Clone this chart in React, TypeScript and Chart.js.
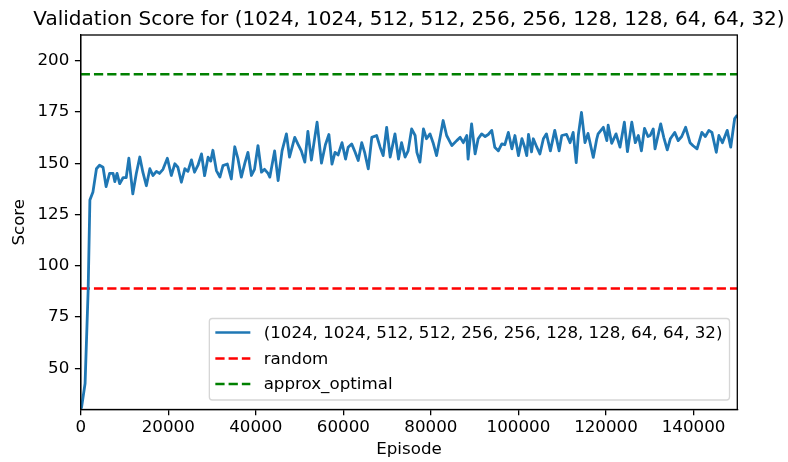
import React, { useEffect, useRef } from "react";
import { Chart, registerables } from "chart.js";

Chart.register(...registerables);

const TITLE = "Validation Score for (1024, 1024, 512, 512, 256, 256, 128, 128, 64, 64, 32)";
const SERIES_LABEL = "(1024, 1024, 512, 512, 256, 256, 128, 128, 64, 64, 32)";
const X_LABEL = "Episode";
const Y_LABEL = "Score";

const episodes = [
  0, 200, 1000, 1700, 2100, 2800, 3600, 4300, 5100, 5800,
  6600, 7400, 7800, 8300, 8900, 9700, 10400, 11000, 11600, 11900,
  12700, 13500, 14200, 15000, 15800, 16500, 17300, 18000, 18800, 19800,
  20700, 21500, 22200, 23000, 23800, 24500, 25300, 26000, 26800, 27600,
  28300, 29100, 29700, 30200, 31000, 31800, 32500, 33500, 34400, 35200,
  35900, 36700, 37500, 38200, 39000, 39700, 40500, 41300, 42000, 42800,
  43200, 44300, 45100, 46000, 47000, 47700, 48900, 49600, 50400, 51200,
  51900, 52700, 54000, 55000, 55900, 56700, 57400, 58100, 58800, 59700,
  60500, 61100, 61900, 62700, 63400, 64200, 64900, 65700, 66500, 67600,
  68400, 69100, 69900, 70700, 71800, 72600, 73300, 74100, 74800, 75600,
  76400, 76800, 77500, 78300, 79000, 79800, 80500, 81300, 82100, 82800,
  83600, 84800, 85900, 86700, 87400, 88200, 88500, 89300, 90100, 90800,
  91600, 92400, 93100, 93900, 94600, 95400, 96200, 96900, 97700, 98500,
  99200, 100000, 100800, 101400, 101900, 102300, 103000, 103400, 104200, 104900,
  105700, 106400, 107300, 108300, 109300, 109900, 111000, 111800, 112500, 113200,
  113700, 114400, 115200, 115900, 117100, 117900, 118200, 119400, 120200, 120500,
  121300, 122300, 123200, 124200, 124900, 125900, 126700, 127400, 128100, 128800,
  129600, 130100, 130800, 131200, 132500, 133200, 134000, 134700, 135700, 136500,
  137300, 138200, 139200, 139900, 140800, 141900, 142700, 143500, 144200, 145200,
  145800, 146600, 147700, 148500, 149400, 150000,
];

const scores = [
  30, 31, 42.6, 88, 132, 136, 147.3, 149, 148, 138.6,
  145, 145, 141, 145, 140, 143, 143, 152.4, 141, 135,
  145, 153, 145.6, 139, 147.3, 144, 146, 145, 147, 152.4,
  144, 149.7, 148, 140.7, 147.3, 146, 151.6, 145.6, 149, 154.5,
  143.9, 152.9, 151, 156.3, 146.4, 143.2, 148.8, 149.6, 142.3, 158,
  152.4, 143.2, 150, 155.3, 144, 147, 158.6, 145.6, 147, 145,
  143.2, 156, 141.5, 156, 164.3, 153, 162.6, 159.4, 156, 150.5,
  165.5, 151.5, 170, 150, 159, 164, 149.5, 155.3, 154, 160,
  152, 157.8, 159.4, 155.3, 151.3, 160, 155, 147.2, 162.6, 163.5,
  157.8, 153.7, 167.5, 153, 164.3, 152, 160, 153, 156, 166.7,
  163.5, 155.3, 150.5, 166.7, 161.9, 164.3, 160, 153.7, 162.6, 170.8,
  163.5, 158.6, 161, 162.6, 160, 163.5, 152, 169.2, 154.5, 161.9,
  164.3, 163, 164, 166, 157.8, 156, 159.4, 159, 165, 157,
  163.5, 153.7, 162, 158, 153.7, 164, 155.5, 161.9, 157.8, 154.5,
  161.9, 164.3, 156, 166, 156, 163.5, 164, 160, 165, 150.3,
  164, 174.8, 160, 164.5, 152.8, 161.9, 164.3, 167.5, 161, 168.5,
  159.7, 164.3, 157.8, 170, 155.6, 170, 160, 163.5, 156, 167,
  163, 163.5, 166.7, 157, 169.2, 162.6, 156.5, 161.9, 165, 161,
  163, 167.5, 160, 158.5, 157, 165, 163, 166, 165, 155.3,
  163.5, 160, 166, 157.8, 171.8, 173.5,
];

const RANDOM_SCORE = 88.9;
const OPTIMAL_SCORE = 193.4;

const X_MIN = 0;
const X_MAX = 150000;
const Y_MIN = 29.9;
const Y_MAX = 212.5;
const X_TICKS = [0, 20000, 40000, 60000, 80000, 100000, 120000, 140000];
const Y_TICKS = [50, 75, 100, 125, 150, 175, 200];

const FONT = '"DejaVu Sans", sans-serif';
const TICK_SIZE = 16.7;
const TITLE_SIZE = 20;

const framePlugin = {
  id: "mplFrame",
  afterDraw(chart: any) {
    const { ctx, chartArea } = chart;
    ctx.save();
    ctx.strokeStyle = "#000";
    ctx.lineWidth = 1.3;
    ctx.strokeRect(chartArea.left, chartArea.top, chartArea.right - chartArea.left, chartArea.bottom - chartArea.top);
    ctx.fillStyle = "#000";
    ctx.font = `${TITLE_SIZE}px ${FONT}`;
    ctx.textAlign = "center";
    ctx.textBaseline = "alphabetic";
    ctx.fillText(TITLE, (chartArea.left + chartArea.right) / 2, chartArea.top - 10);
    ctx.restore();
  },
};

const legendPlugin = {
  id: "mplLegend",
  afterDraw(chart: any) {
    const { ctx, chartArea } = chart;
    const ds = chart.data.datasets;
    ctx.save();
    ctx.font = `${TICK_SIZE}px ${FONT}`;
    const maxW = Math.max(...ds.map((d: any) => ctx.measureText(d.label).width));
    const right = chartArea.right - 7.8;
    const bottom = chartArea.bottom - 9.5;
    const left = right - (54.3 + maxW + 7);
    const rowH = 25.5;
    const top = bottom - (rowH * ds.length + 5);
    const r = 3;
    ctx.beginPath();
    ctx.moveTo(left + r, top);
    ctx.lineTo(right - r, top);
    ctx.quadraticCurveTo(right, top, right, top + r);
    ctx.lineTo(right, bottom - r);
    ctx.quadraticCurveTo(right, bottom, right - r, bottom);
    ctx.lineTo(left + r, bottom);
    ctx.quadraticCurveTo(left, bottom, left, bottom - r);
    ctx.lineTo(left, top + r);
    ctx.quadraticCurveTo(left, top, left + r, top);
    ctx.closePath();
    ctx.fillStyle = "rgba(255,255,255,0.8)";
    ctx.fill();
    ctx.strokeStyle = "rgba(204,204,204,0.8)";
    ctx.lineWidth = 1.3;
    ctx.stroke();
    ds.forEach((d: any, i: number) => {
      const cy = top + 14 + i * rowH + (i > 0 ? 0.5 : 0);
      ctx.beginPath();
      ctx.setLineDash(d.borderDash || []);
      ctx.strokeStyle = d.borderColor;
      ctx.lineWidth = 2.5;
      ctx.moveTo(left + 6, cy);
      ctx.lineTo(left + 41, cy);
      ctx.stroke();
      ctx.setLineDash([]);
      ctx.fillStyle = "#000";
      ctx.textAlign = "left";
      ctx.textBaseline = "middle";
      ctx.fillText(d.label, left + 54.3, cy + 1);
    });
    ctx.restore();
  },
};

export default function App() {
  const ref = useRef<HTMLCanvasElement | null>(null);
  useEffect(() => {
    if (!ref.current) return;
    const mainData = episodes.map((e, i) => ({ x: e, y: scores[i] }));
    const chart = new Chart(ref.current, {
      type: "line",
      data: {
        datasets: [
          {
            label: SERIES_LABEL,
            data: mainData,
            borderColor: "#1f77b4",
            borderWidth: 2.8,
            borderJoinStyle: "round",
            pointRadius: 0,
            tension: 0,
            fill: false,
          },
          {
            label: "random",
            data: [
              { x: X_MIN, y: RANDOM_SCORE },
              { x: X_MAX, y: RANDOM_SCORE },
            ],
            borderColor: "#ff0000",
            borderWidth: 2.5,
            borderDash: [9.25, 4],
            pointRadius: 0,
            fill: false,
          },
          {
            label: "approx_optimal",
            data: [
              { x: X_MIN, y: OPTIMAL_SCORE },
              { x: X_MAX, y: OPTIMAL_SCORE },
            ],
            borderColor: "#008000",
            borderWidth: 2.5,
            borderDash: [9.25, 4],
            pointRadius: 0,
            fill: false,
          },
        ],
      },
      options: {
        responsive: false,
        animation: false,
        devicePixelRatio: 1,
        layout: { padding: { left: 0, right: 788 - 737.3, top: 35, bottom: 0 } },
        plugins: {
          legend: { display: false },
          tooltip: { enabled: false },
          title: { display: false },
        },
        scales: {
          x: {
            type: "linear",
            min: X_MIN,
            max: X_MAX,
            afterBuildTicks: (s: any) => {
              s.ticks = X_TICKS.map((v) => ({ value: v }));
            },
            afterFit: (s: any) => {
              s.height = 462 - 409.5;
            },
            ticks: {
              autoSkip: false,
              maxRotation: 0,
              padding: 2,
              color: "#000",
              font: { family: FONT, size: TICK_SIZE },
              callback: (v: any) => String(v),
            },
            grid: {
              drawOnChartArea: false,
              drawTicks: true,
              tickLength: 5.8,
              color: "#000",
              lineWidth: 1.3,
            },
            border: { display: true, color: "#000", width: 1.3 },
            title: {
              display: true,
              text: X_LABEL,
              color: "#000",
              font: { family: FONT, size: TICK_SIZE },
              padding: { top: 0, bottom: 2 },
            },
          },
          y: {
            type: "linear",
            min: Y_MIN,
            max: Y_MAX,
            afterBuildTicks: (s: any) => {
              s.ticks = Y_TICKS.map((v) => ({ value: v }));
            },
            afterFit: (s: any) => {
              s.width = 80.7;
            },
            ticks: {
              padding: 5.6,
              color: "#000",
              font: { family: FONT, size: TICK_SIZE },
              callback: (v: any) => String(v),
            },
            grid: {
              drawOnChartArea: false,
              drawTicks: true,
              tickLength: 5.8,
              color: "#000",
              lineWidth: 1.3,
            },
            border: { display: true, color: "#000", width: 1.3 },
            title: {
              display: true,
              text: Y_LABEL,
              color: "#000",
              font: { family: FONT, size: TICK_SIZE },
              padding: { top: 10, bottom: 0 },
            },
          },
        },
      },
      plugins: [framePlugin, legendPlugin],
    });
    return () => chart.destroy();
  }, []);
  return (
    <div style={{ position: "absolute", left: 0, top: 0, width: 788, height: 462, background: "#fff" }}>
      <canvas ref={ref} width={788} height={462} style={{ width: 788, height: 462, display: "block" }} />
    </div>
  );
}
